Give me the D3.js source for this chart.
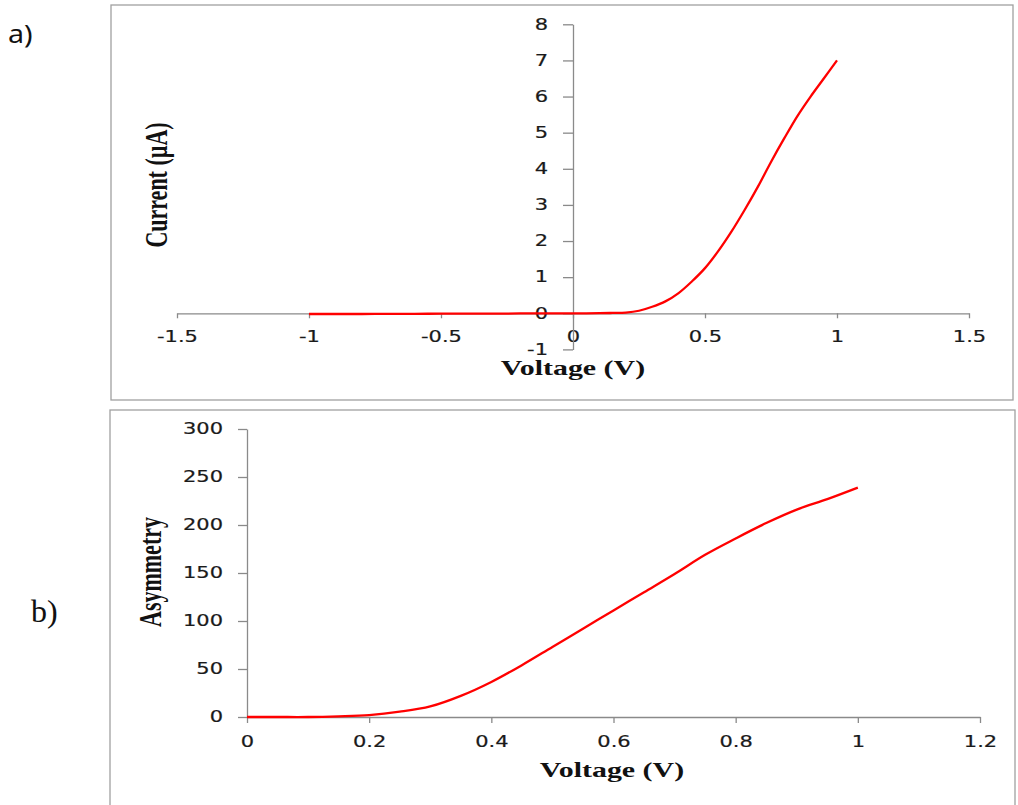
<!DOCTYPE html>
<html>
<head>
<meta charset="utf-8">
<script src="https://cdn.jsdelivr.net/npm/d3@7"></script>
<style>
  body { margin: 0; background: #fff; }
</style>
</head>
<body>
<div id="chart"></div>
<script>
// ---- data ----
// panel a) I-V curve
const ivVoltage = [-1, -0.9, -0.8, -0.7, -0.6, -0.5, -0.4, -0.3, -0.2, -0.1, 0,
    0.05, 0.1, 0.15, 0.2, 0.25, 0.3, 0.35, 0.4, 0.45, 0.5,
    0.55, 0.6, 0.65, 0.7, 0.75, 0.8, 0.85, 0.9, 0.95, 1.0];
const ivCurrent = [-0.02, -0.02, -0.02, -0.015, -0.015, -0.01, -0.01, -0.01, -0.005, -0.005, 0,
    0, 0.002, 0.01, 0.02, 0.07, 0.18, 0.33, 0.56, 0.88, 1.25,
    1.72, 2.26, 2.86, 3.5, 4.19, 4.84, 5.46, 6.0, 6.5, 7.0];
const ivXTicks = [-1.5, -1, -0.5, 0, 0.5, 1, 1.5];
const ivYTicks = [-1, 0, 1, 2, 3, 4, 5, 6, 7, 8];

// panel b) asymmetry
const asVoltage = [0, 0.05, 0.1, 0.15, 0.2, 0.25, 0.3, 0.35, 0.4, 0.45, 0.5,
    0.55, 0.6, 0.65, 0.7, 0.75, 0.8, 0.85, 0.9, 0.95, 1.0];
const asValue = [0, 0, 0, 0.7, 2, 5.5, 11, 22, 36.5, 54, 73,
    92, 111, 130, 149, 169, 186, 202, 216, 227, 239];
const asXTicks = [0, 0.2, 0.4, 0.6, 0.8, 1, 1.2];
const asYTicks = [0, 50, 100, 150, 200, 250, 300];

const svg = d3.select("#chart")
    .append("svg")
    .attr("width", 1018)
    .attr("height", 805);

const axisColor = "#8a8a8a";
const tickFont = "'DejaVu Sans', Verdana, sans-serif";
const titleFont = "'Liberation Serif', 'Times New Roman', serif";
const SX = 1.4; // the picture is stretched sideways

// stretch a text sideways around its own anchor
function stretch(sel, sx) {
    sel.attr("transform", function () {
        const x = +this.getAttribute("x") || 0;
        return `translate(${x},0) scale(${sx},1) translate(${-x},0)`;
    });
}

function styleAxis(g) {
    g.attr("font-family", null).attr("font-size", null);
    g.select(".domain").attr("stroke", axisColor).attr("stroke-width", 1.3);
    g.selectAll(".tick line").attr("stroke", axisColor).attr("stroke-width", 1.3);
    g.selectAll(".tick text")
        .style("font-family", tickFont)
        .style("font-size", "15px")
        .attr("fill", "#1a1a1a")
        .attr("stroke", "#1a1a1a")
        .attr("stroke-width", 0.2)
        .call(stretch, SX);
}

// panel frames
svg.append("rect")
    .attr("x", 111).attr("y", 5).attr("width", 902).attr("height", 395)
    .attr("fill", "none").attr("stroke", "#a0a0a0").attr("stroke-width", 1.3);
svg.append("rect")
    .attr("x", 110).attr("y", 410).attr("width", 905).attr("height", 420)
    .attr("fill", "none").attr("stroke", "#a0a0a0").attr("stroke-width", 1.3);

// panel letters
svg.append("text")
    .attr("x", 8).attr("y", 43)
    .style("font-family", "'Noto Sans', 'Open Sans', sans-serif")
    .style("font-size", "26px")
    .attr("fill", "#111")
    .text("a)")
    .call(stretch, 1.1);
svg.append("text")
    .attr("x", 31).attr("y", 622)
    .style("font-family", titleFont)
    .style("font-size", "32px")
    .attr("fill", "#111")
    .text("b)");

// ---------- panel a ----------
const xA = d3.scaleLinear().domain([-1.5, 1.5]).range([177, 969]);
const yA = d3.scaleLinear().domain([-1, 8]).range([349.4, 24.3]);

svg.append("g")
    .attr("transform", `translate(0,${yA(0)})`)
    .call(d3.axisBottom(xA).tickValues(ivXTicks).tickSize(5).tickSizeOuter(0)
        .tickPadding(13).tickFormat(d => String(d)))
    .call(styleAxis);

svg.append("g")
    .attr("transform", `translate(${xA(0)},0)`)
    .call(d3.axisLeft(yA).tickValues(ivYTicks).tickSize(10).tickSizeOuter(0)
        .tickPadding(15).tickFormat(d => String(d)))
    .call(styleAxis);

svg.append("path")
    .datum(ivVoltage.map((v, i) => [v, ivCurrent[i]]))
    .attr("fill", "none")
    .attr("stroke", "#ff0000")
    .attr("stroke-width", 2.3)
    .attr("d", d3.line().x(d => xA(d[0])).y(d => yA(d[1])).curve(d3.curveCatmullRom.alpha(0.5)));

svg.append("text")
    .attr("x", 573).attr("y", 375)
    .attr("text-anchor", "middle")
    .style("font-family", titleFont)
    .style("font-weight", "bold")
    .style("font-size", "22px")
    .attr("fill", "#111")
    .text("Voltage (V)")
    .call(stretch, 1.36);

svg.append("text")
    .attr("text-anchor", "middle")
    .attr("transform", `translate(167,185) scale(${SX},1) rotate(-90)`)
    .style("font-family", titleFont)
    .style("font-weight", "bold")
    .style("font-size", "22px")
    .attr("fill", "#111")
    .text("Current (µA)");

// ---------- panel b ----------
const xB = d3.scaleLinear().domain([0, 1.2]).range([247, 980]);
const yB = d3.scaleLinear().domain([0, 300]).range([717, 429]);

svg.append("g")
    .attr("transform", `translate(0,${yB(0)})`)
    .call(d3.axisBottom(xB).tickValues(asXTicks).tickSize(6).tickSizeOuter(0)
        .tickPadding(13).tickFormat(d => String(d)))
    .call(styleAxis);

svg.append("g")
    .attr("transform", `translate(${xB(0)},0)`)
    .call(d3.axisLeft(yB).tickValues(asYTicks).tickSize(9).tickSizeOuter(0)
        .tickPadding(15).tickFormat(d => String(d)))
    .call(styleAxis);

svg.append("path")
    .datum(asVoltage.map((v, i) => [v, asValue[i]]))
    .attr("fill", "none")
    .attr("stroke", "#ff0000")
    .attr("stroke-width", 2.3)
    .attr("d", d3.line().x(d => xB(d[0])).y(d => yB(d[1])).curve(d3.curveCatmullRom.alpha(0.5)));

svg.append("text")
    .attr("x", 612).attr("y", 777)
    .attr("text-anchor", "middle")
    .style("font-family", titleFont)
    .style("font-weight", "bold")
    .style("font-size", "22px")
    .attr("fill", "#111")
    .text("Voltage (V)")
    .call(stretch, 1.36);

svg.append("text")
    .attr("text-anchor", "middle")
    .attr("transform", `translate(161,572) scale(${SX},1) rotate(-90)`)
    .style("font-family", titleFont)
    .style("font-weight", "bold")
    .style("font-size", "22px")
    .attr("fill", "#111")
    .text("Asymmetry");
</script>
</body>
</html>
